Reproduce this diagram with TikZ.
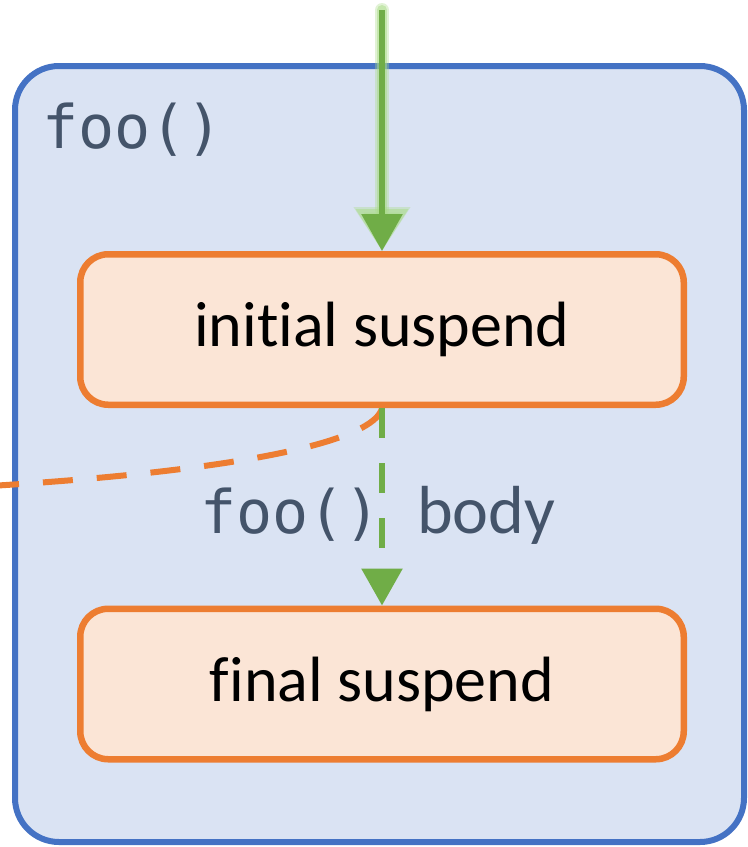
\documentclass[tikz,border=0pt]{standalone}
\usepackage{fontspec}
\setmainfont{Carlito}[Ligatures=NoCommon]
\newfontfamily\codefont{DejaVu Sans Mono}
\usetikzlibrary{arrows.meta}
\definecolor{boxblue}{HTML}{4472C4}
\definecolor{boxfill}{HTML}{DAE3F3}
\definecolor{susporange}{HTML}{ED7D31}
\definecolor{suspfill}{HTML}{FBE5D6}
\definecolor{flowgreen}{HTML}{70AD47}
\definecolor{glowgreen}{HTML}{A9DB86}
\definecolor{labelgray}{HTML}{44546A}
\tikzset{
  suspend/.style={draw=susporange,fill=suspfill,line width=3.25pt,rounded corners=14pt,
    minimum width=301.75pt,minimum height=75.25pt,font=\fontsize{32}{38}\selectfont},
  codelabel/.style={anchor=base west,inner sep=0pt,text=labelgray},
  flow/.style={flowgreen,line width=3pt,-{Triangle[width=20pt,length=18.5pt]}},
  glow/.style={glowgreen,line width=#1,line cap=round,-{Triangle[width=20pt+#1,length=18.5pt+#1/2]}},
}
\begin{document}
\begin{tikzpicture}[x=0.5pt,y=-0.5pt]
\useasboundingbox (0,0) rectangle (748,847);
%\draw[step=50,gray,very thin] (0,0) grid (748,847); %background grid
\draw[boxblue,fill=boxfill,line width=3pt,rounded corners=22pt] (15,66) rectangle (744,842);
\node[codelabel,font=\codefont\fontsize{30}{35}\selectfont] (fooname) at (42,148) {foo()};
\node[suspend] (initial) at (382,329.5) {initial suspend};
\node[suspend] (final) at (382,684) {final suspend};
\coordinate (entry) at (382,10);
\coordinate (exit) at (-10,486);
% glow under the call arrow
\draw[glow=7pt,opacity=0.35] (entry) -- (initial.north);
\draw[glow=5pt,opacity=0.5] (entry) -- (initial.north);
\draw[flow] (entry) -- (initial.north);
\draw[susporange,line width=3pt,dash pattern=on 15pt off 12pt] (initial.south) .. controls (375,440) and (250,470) .. (exit);
\draw[flow,dash pattern=on 15pt off 12.5pt] (initial.south) -- (final.north);
\node[codelabel,font=\fontsize{34}{40}\selectfont] (bodylabel) at (200,533) {{\codefont\fontsize{30}{35}\selectfont foo() }body};
\end{tikzpicture}
\end{document}
